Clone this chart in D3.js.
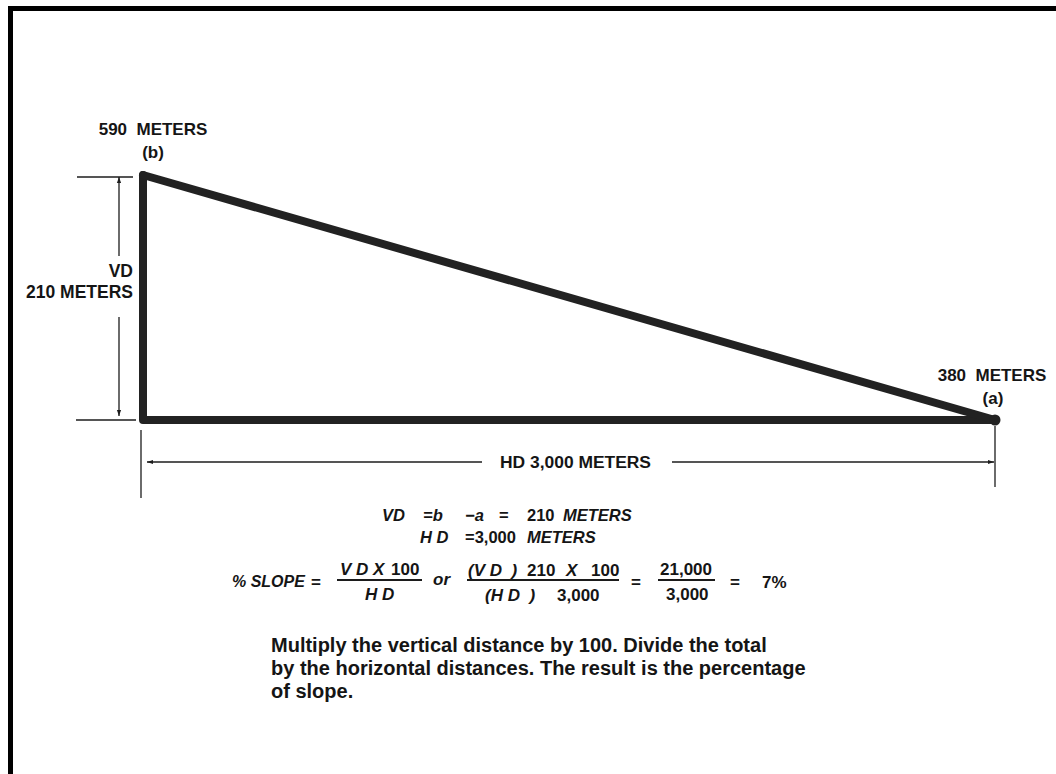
<!DOCTYPE html>
<html>
<head>
<meta charset="utf-8">
<script src="https://cdn.jsdelivr.net/npm/d3@7"></script>
<style>
  body { margin: 0; background: #fff; }
  svg text { font-family: "Liberation Sans", Arial, Helvetica, sans-serif; font-weight: bold; fill: #151515; }
</style>
</head>
<body>
<div id="main"></div>
<script>
// slope example: two stations, horizontal distance and elevation
const stations = ['b', 'a'];
const horizDist = [0, 3000];
const elevations = [590, 380];
const elevLabels = ['590  METERS', '380  METERS'];
const vdLabel = ['VD', '210 METERS'];
const hdLabel = 'HD 3,000 METERS';
const noteLines = [
  'Multiply the vertical distance by 100. Divide the total',
  'by the horizontal distances. The result is the percentage',
  'of slope.'
];

const width = 1056, height = 774;
const ink = '#1c1c1c';

const svg = d3.select('#main').append('svg')
  .attr('width', width)
  .attr('height', height);

// frame (only top and left edges are visible)
svg.append('rect')
  .attr('x', 10.5).attr('y', 8.5)
  .attr('width', 1200).attr('height', 900)
  .attr('fill', 'none').attr('stroke', '#000').attr('stroke-width', 5);

const xScale = d3.scaleLinear().domain([0, 3000]).range([143, 995]);
const yScale = d3.scaleLinear().domain([380, 590]).range([420, 175]);

const defs = svg.append('defs');
defs.append('marker')
  .attr('id', 'arrow')
  .attr('viewBox', '0 0 10 10')
  .attr('refX', 10).attr('refY', 5)
  .attr('markerWidth', 6).attr('markerHeight', 6)
  .attr('markerUnits', 'userSpaceOnUse')
  .attr('orient', 'auto-start-reverse')
  .append('path').attr('d', 'M0,1.5 L10,5 L0,8.5 Z').attr('fill', ink);

// triangle
const pb = [xScale(horizDist[0]), yScale(elevations[0])];
const pa = [xScale(horizDist[1]), yScale(elevations[1])];
const pc = [xScale(horizDist[0]), yScale(elevations[1])];

svg.append('path')
  .datum([pb, pc, pa])
  .attr('d', d3.line())
  .attr('fill', 'none')
  .attr('stroke', '#222')
  .attr('stroke-width', 8)
  .attr('stroke-linejoin', 'round')
  .attr('stroke-linecap', 'round');

svg.append('line')
  .attr('x1', pb[0]).attr('y1', pb[1]).attr('x2', pa[0]).attr('y2', pa[1])
  .attr('stroke', '#222').attr('stroke-width', 8).attr('stroke-linecap', 'round');

svg.append('circle')
  .attr('cx', pa[0]).attr('cy', pa[1]).attr('r', 5.5).attr('fill', '#222');

const thin = (x1, y1, x2, y2) => svg.append('line')
  .attr('x1', x1).attr('y1', y1).attr('x2', x2).attr('y2', y2)
  .attr('stroke', ink).attr('stroke-width', 1.3);

// vertical distance dimension
thin(77, pb[1] + 2, 133, pb[1] + 2);
thin(76, pc[1], 136, pc[1]);
thin(119, 256, 119, pb[1] + 2).attr('marker-end', 'url(#arrow)');
thin(119, 317, 119, pc[1] - 4).attr('marker-end', 'url(#arrow)');

// horizontal distance dimension
thin(pc[0] - 2, 430, pc[0] - 2, 498);
thin(pa[0], 426, pa[0], 487);
thin(482, 462, 147, 462).attr('marker-end', 'url(#arrow)');
thin(672, 462, 994, 462).attr('marker-end', 'url(#arrow)');

// elevation labels
const labelPos = [{x: 153, y: 135}, {x: 992, y: 381}];
stations.forEach((s, i) => {
  svg.append('text')
    .attr('x', labelPos[i].x).attr('y', labelPos[i].y)
    .attr('text-anchor', 'middle')
    .attr('font-size', 17)
    .style('white-space', 'pre')
    .text(elevLabels[i]);
  svg.append('text')
    .attr('x', labelPos[i].x + (i ? 1 : 0)).attr('y', labelPos[i].y + 23)
    .attr('text-anchor', 'middle')
    .attr('font-size', 17)
    .text(`(${s})`);
});

vdLabel.forEach((t, i) => {
  svg.append('text')
    .attr('x', 133).attr('y', 277 + i * 21)
    .attr('text-anchor', 'end')
    .attr('font-size', 17.5)
    .text(t);
});

svg.append('text')
  .attr('x', 500).attr('y', 468)
  .attr('font-size', 16)
  .attr('textLength', 151)
  .attr('lengthAdjust', 'spacingAndGlyphs')
  .text(hdLabel);

// equations
const eq = (x, y, t, italic, size) => svg.append('text')
  .attr('x', x).attr('y', y)
  .attr('font-size', size || 16.5)
  .attr('font-style', italic ? 'italic' : 'normal')
  .style('white-space', 'pre')
  .text(t);
const bar = (x1, x2) => svg.append('line')
  .attr('x1', x1).attr('x2', x2).attr('y1', 580).attr('y2', 580)
  .attr('stroke', ink).attr('stroke-width', 1.8);

eq(382, 521, 'VD', true);
eq(423, 521, '=b', true);
eq(465, 521, '\u2212a', true);
eq(499, 521, '=', false);
eq(527, 521, '210', false);
eq(563, 521, 'METERS', true);

eq(420, 543, 'H D', true);
eq(465, 543, '=3,000', false);
eq(527, 543, 'METERS', true);

eq(232, 587, '% SLOPE', true, 16);
eq(311, 588, '=', false, 17);
eq(340, 575, 'V D X', true, 17);
eq(391, 575, '100', false, 17);
bar(337, 422);
eq(365, 600, 'H D', true, 17);
eq(433, 585, 'or', true, 17);
eq(468, 576, '(V D  )', true, 17);
eq(527, 576, '210', false, 17);
eq(566, 576, 'X', true, 17);
eq(591, 576, '100', false, 17);
bar(467, 619);
eq(485, 601, '(H D  )', true, 17);
eq(557, 601, '3,000', false, 17);
eq(631, 588, '=', false, 17);
eq(660, 575, '21,000', false, 17);
bar(658, 715);
eq(666, 600, '3,000', false, 17);
eq(730, 588, '=', false, 17);
eq(762, 588, '7%', false, 17);

// note
svg.append('g').selectAll('text')
  .data(noteLines)
  .join('text')
  .attr('x', 271)
  .attr('y', (d, i) => 652 + i * 23)
  .attr('font-size', 20)
  .attr('fill', '#000')
  .text(d => d);
</script>
</body>
</html>
